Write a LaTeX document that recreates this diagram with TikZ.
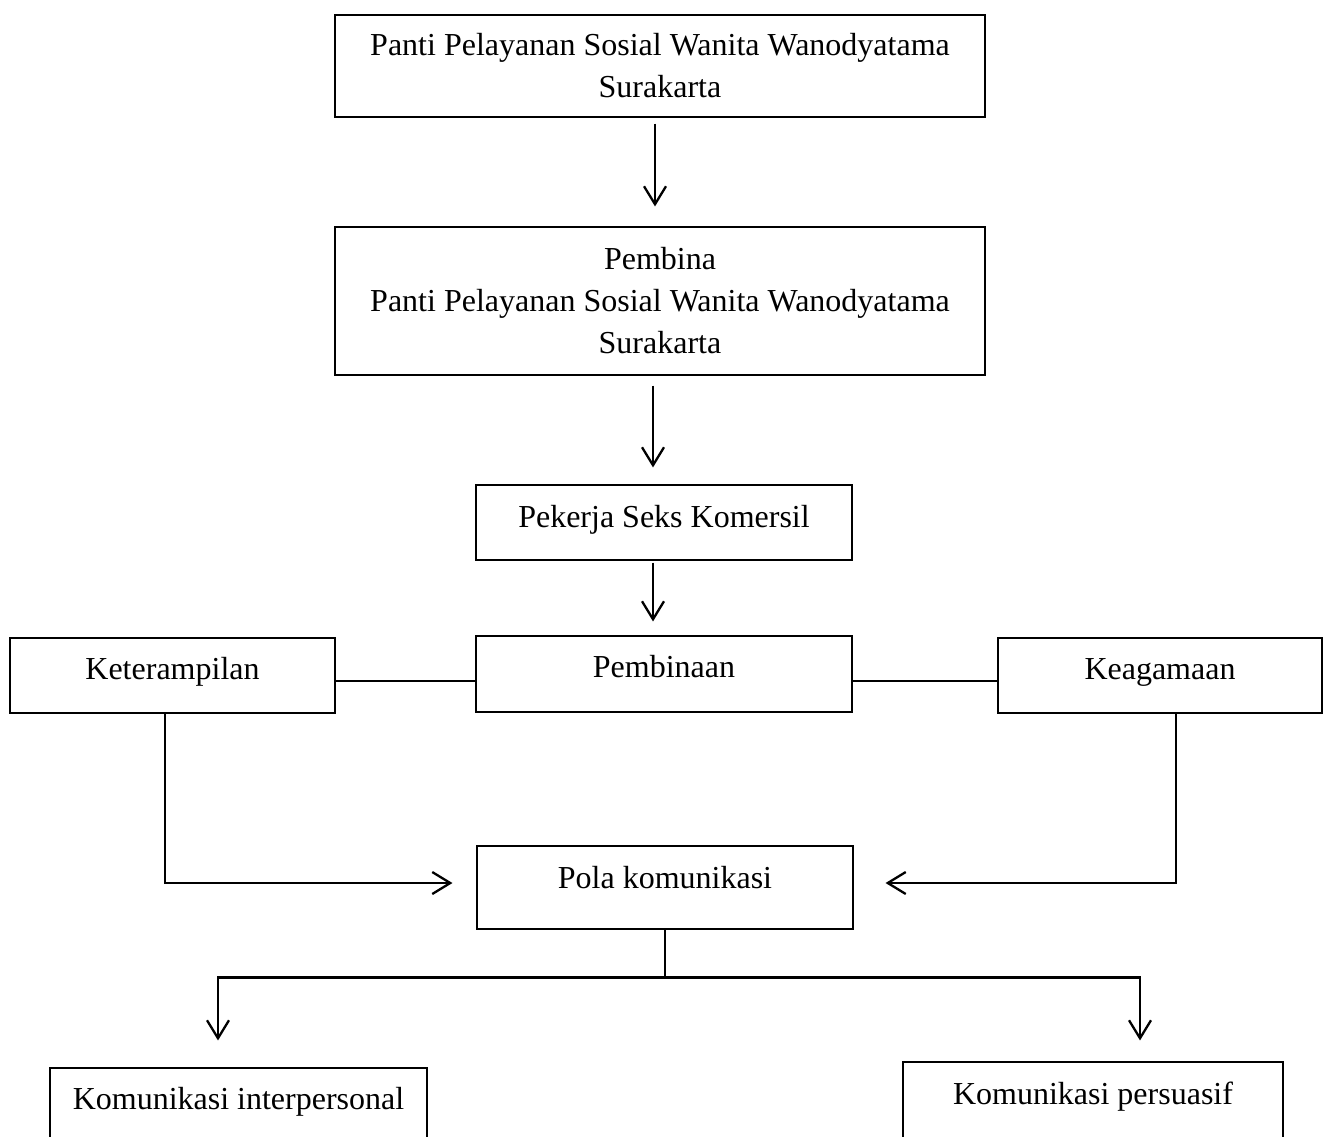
\documentclass[tikz,border=0pt]{standalone}
\usepackage{fontspec}
\setmainfont{Liberation Serif}
\usetikzlibrary{arrows.meta}
\tikzset{
  kotak/.style={draw,line width=1.1pt,align=center,inner sep=0pt,font=\fontsize{32}{42}\selectfont},
  satu/.style={text height=22pt,text depth=#1},
  garis/.style={line width=2.3pt},
  panah/.style={-{Straight Barb[length=18pt,width=22pt]},line width=2.3pt},
}
\begin{document}
\begin{tikzpicture}[x=1pt,y=-1pt]
  \clip (0,0) rectangle (1330,1136);
  \node[kotak,minimum width=650pt,minimum height=102pt] (panti) at (660,66) {Panti Pelayanan Sosial Wanita Wanodyatama\\Surakarta};
  \node[kotak,minimum width=650pt,minimum height=148pt] (pembina) at (660,301) {Pembina\\Panti Pelayanan Sosial Wanita Wanodyatama\\Surakarta};
  \node[kotak,satu=12pt,minimum width=376pt,minimum height=75pt] (psk) at (664,522.5) {Pekerja Seks Komersil};
  \node[kotak,satu=15pt,minimum width=376pt,minimum height=76pt] (pembinaan) at (664,674) {Pembinaan};
  \node[kotak,satu=14pt,minimum width=325pt,minimum height=75pt] (terampil) at (172.5,675.5) {Keterampilan};
  \node[kotak,satu=14pt,minimum width=324pt,minimum height=75pt] (agama) at (1160,675.5) {Keagamaan};
  \node[kotak,satu=20pt,minimum width=376pt,minimum height=83pt] (pola) at (665,887.5) {Pola komunikasi};
  \node[kotak,satu=19pt,minimum width=377pt,minimum height=80pt] (antar) at (238.5,1108) {Komunikasi interpersonal};
  \node[kotak,satu=27pt,minimum width=380pt,minimum height=90pt] (bujuk) at (1093,1107) {Komunikasi persuasif};
  \draw[panah,shorten <=6pt,shorten >=20pt] ([xshift=-5pt]panti.south) -- ([xshift=-5pt]pembina.north);
  \draw[panah,shorten <=10pt,shorten >=17pt] ([xshift=-7pt]pembina.south) -- ([xshift=-7pt]pembina.south |- psk.north);
  \draw[panah,shorten <=2pt,shorten >=14pt] ([xshift=-11pt]psk.south) -- ([xshift=-11pt]pembinaan.north);
  \draw[garis] ([yshift=-5.5pt]terampil.east) -- ([yshift=-5.5pt]terampil.east -| pembinaan.west);
  \draw[garis] ([yshift=-7pt]pembinaan.east) -- ([yshift=-7pt]pembinaan.east -| agama.west);
  \draw[panah,shorten >=24pt] ([xshift=-7.5pt]terampil.south) |- ([yshift=4.5pt]pola.west);
  \draw[panah,shorten >=32pt] ([xshift=16pt]agama.south) |- ([yshift=4.5pt]pola.east);
  \coordinate (cabang) at ([yshift=-48pt]pola.south);
  \draw[garis] (pola.south) -- (cabang);
  \draw[panah,shorten >=27pt] (cabang) -| ([xshift=-20.5pt]antar.north);
  \draw[panah,shorten >=21pt] (cabang) -| ([xshift=47pt]bujuk.north);
\end{tikzpicture}
\end{document}
